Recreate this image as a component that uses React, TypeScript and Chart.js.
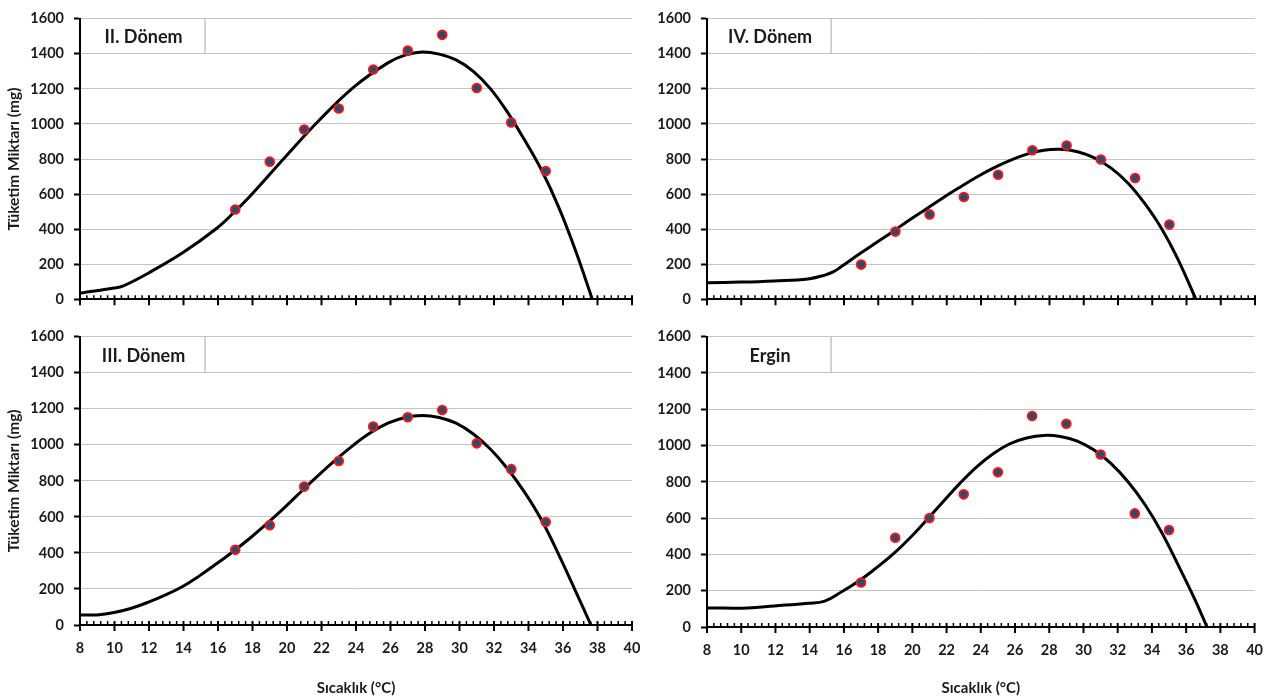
import React, { useEffect, useRef } from 'react';
import { Chart, registerables } from 'chart.js';

Chart.register(...registerables);

// ---- data ----
const temps = [17, 19, 21, 23, 25, 27, 29, 31, 33, 35];

const obsII = [512, 785, 968, 1088, 1310, 1418, 1508, 1205, 1008, 732];
const obsIII = [418, 554, 768, 910, 1101, 1153, 1193, 1008, 865, 572];
const obsIV = [198, 386, 484, 583, 710, 850, 877, 797, 692, 426];
const obsErgin = [245, 492, 601, 731, 853, 1163, 1120, 951, 626, 535];

const curveIIx = [8, 9.98, 10.48, 11.97, 13.95, 15.93, 16.92, 17.92, 19.9, 21.88, 23.87, 25.85, 26.84, 27.83, 28.82, 29.8, 30.8, 31.8, 32.76, 33.75, 34.74, 35.73, 36.72, 37.7];
const curveIIy = [35, 64, 75, 150, 265, 405, 495, 595, 812, 1022, 1210, 1348, 1392, 1410, 1398, 1365, 1300, 1200, 1070, 912, 740, 530, 280, 0];

const curveIIIx = [8, 8.99, 9.98, 10.98, 11.97, 12.96, 13.95, 14.94, 15.93, 16.92, 17.92, 18.91, 19.9, 20.9, 21.88, 22.87, 23.87, 24.86, 25.85, 26.84, 27.83, 28.82, 29.8, 30.8, 31.8, 32.76, 33.75, 34.74, 35.73, 36.72, 37.62];
const curveIIIy = [56, 56, 69, 93, 127, 167, 214, 274, 341, 411, 487, 569, 656, 748, 836, 920, 1000, 1068, 1120, 1152, 1163, 1152, 1120, 1060, 975, 870, 740, 585, 395, 190, 0];

const curveIVx = [8, 9.97, 11.93, 13.9, 14.88, 15.37, 15.87, 16.85, 17.83, 18.82, 19.8, 20.78, 21.77, 22.75, 23.73, 24.72, 25.7, 26.68, 27.67, 28.65, 29.64, 30.62, 31.6, 32.59, 33.57, 34.55, 35.53, 36.55];
const curveIVy = [94, 98, 105, 116, 138, 156, 188, 255, 319, 384, 451, 514, 578, 638, 696, 748, 792, 828, 850, 855, 841, 806, 748, 662, 545, 402, 222, 0];

const curveErginX = [8, 10.4, 11.93, 13.9, 14.88, 15.87, 16.85, 17.83, 18.82, 19.8, 20.78, 21.77, 22.75, 23.73, 24.72, 25.7, 26.68, 27.67, 28.65, 29.64, 30.62, 31.6, 32.59, 33.57, 34.55, 35.53, 36.52, 37.22];
const curveErginY = [105, 105, 116, 131, 143, 194, 252, 321, 397, 485, 584, 688, 789, 880, 955, 1010, 1042, 1056, 1050, 1025, 975, 902, 802, 678, 525, 342, 150, 0];

const xTickLabels = [8, 40, 2]; // min, max, step
const yTickLabels = [0, 1600, 200]; // min, max, step
const panelTitles = ['II. Dönem', 'III. Dönem', 'IV. Dönem', 'Ergin'];
const yTitle = 'Tüketim Miktarı (mg)';
const xTitle = 'Sıcaklık (°C)';

// ---- layout (page pixels) ----
type PanelCfg = {
  title: string; obs: number[]; cx: number[]; cy: number[];
  left: number; top: number; w: number; h: number;
  yw: number; xh: number; padTop: number; padRight: number;
  showX: boolean; showYTitle: boolean;
};

const panels: PanelCfg[] = [
  { title: panelTitles[0], obs: obsII, cx: curveIIx, cy: curveIIy, left: 0, top: 0, w: 660, h: 318, yw: 80, xh: 13, padTop: 13, padRight: 28, showX: false, showYTitle: true },
  { title: panelTitles[2], obs: obsIV, cx: curveIVx, cy: curveIVy, left: 640, top: 0, w: 638, h: 318, yw: 67, xh: 11, padTop: 14, padRight: 23, showX: false, showYTitle: false },
  { title: panelTitles[1], obs: obsIII, cx: curveIIIx, cy: curveIIIy, left: 0, top: 318, w: 660, h: 382, yw: 80, xh: 75, padTop: 13, padRight: 28, showX: true, showYTitle: true },
  { title: panelTitles[3], obs: obsErgin, cx: curveErginX, cy: curveErginY, left: 640, top: 318, w: 638, h: 382, yw: 67, xh: 73, padTop: 15, padRight: 23, showX: true, showYTitle: false },
];

const FONT = 'Lato, "Noto Sans", sans-serif';
const TEXT = '#1a1a1a';
const GRID = '#c4c4c4';

function Panel({ cfg }: { cfg: PanelCfg }) {
  const ref = useRef<HTMLCanvasElement | null>(null);
  useEffect(() => {
    if (!ref.current) return;
    const boxPlugin = {
      id: 'panelBox',
      beforeDatasetsDraw(chart: any) {
        const { ctx, scales } = chart;
        const x = scales.x, y = scales.y;
        const x0 = x.getPixelForValue(8);
        const x1 = x.getPixelForValue(15.25);
        const y0 = y.getPixelForValue(1600);
        const y1 = y.getPixelForValue(1400);
        ctx.save();
        ctx.strokeStyle = GRID;
        ctx.lineWidth = 1.5;
        ctx.beginPath();
        ctx.moveTo(x1, y0);
        ctx.lineTo(x1, y1);
        ctx.stroke();
        ctx.fillStyle = TEXT;
        ctx.font = `bold 18px ${FONT}`;
        ctx.textAlign = 'center';
        ctx.textBaseline = 'middle';
        ctx.fillText(cfg.title, (x0 + x1) / 2 + 1, (y0 + y1) / 2 + 1);
        ctx.restore();
      },
    };
    const xTickPlugin = {
      id: 'xMarks',
      afterDraw(chart: any) {
        const { ctx, scales } = chart;
        const x = scales.x, y = scales.y;
        const y0 = y.getPixelForValue(0);
        ctx.save();
        ctx.strokeStyle = '#000';
        const n = Math.round((xTickLabels[1] - xTickLabels[0]) / 0.4);
        for (let i = 0; i <= n; i++) {
          const v = xTickLabels[0] + i * 0.4;
          const px = x.getPixelForValue(v);
          const major = i % 5 === 0;
          ctx.lineWidth = major ? 2 : 1.5;
          ctx.beginPath();
          ctx.moveTo(px, y0 - 4);
          ctx.lineTo(px, major ? y0 + 6 : y0);
          ctx.stroke();
        }
        ctx.restore();
      },
    };
    const chart = new Chart(ref.current, {
      type: 'scatter',
      data: {
        datasets: [
          {
            data: temps.map((t, i) => ({ x: t, y: cfg.obs[i] })),
            showLine: false,
            pointRadius: 4.3,
            pointHoverRadius: 4.3,
            pointBackgroundColor: '#1F4E79',
            pointBorderColor: '#FF1010',
            pointBorderWidth: 2,
          },
          {
            data: cfg.cx.map((x, i) => ({ x, y: cfg.cy[i] })),
            showLine: true,
            borderColor: '#000',
            borderWidth: 3,
            pointRadius: 0,
            pointHoverRadius: 0,
            tension: 0.4,
            fill: false,
          } as any,
        ],
      },
      options: {
        animation: false,
        responsive: false,
        maintainAspectRatio: false,
        events: [],
        layout: { padding: { top: cfg.padTop, right: cfg.padRight, left: 0, bottom: 0 } },
        plugins: { legend: { display: false }, tooltip: { enabled: false } },
        scales: {
          x: {
            type: 'linear',
            min: xTickLabels[0],
            max: xTickLabels[1],
            afterFit: (s: any) => { s.height = cfg.xh; },
            grid: { drawOnChartArea: false, drawTicks: false },
            border: { color: '#000', width: 2 },
            ticks: {
              display: cfg.showX,
              stepSize: xTickLabels[2],
              autoSkip: false,
              maxRotation: 0,
              padding: 15,
              color: TEXT,
              font: { family: FONT, size: 14.5, weight: 'bold' },
              callback: (v: any) => String(v),
            },
            title: {
              display: cfg.showX,
              text: xTitle,
              color: TEXT,
              font: { family: FONT, size: 15, weight: 'bold' },
              padding: { top: 0, bottom: 3 },
            },
          },
          y: {
            type: 'linear',
            min: yTickLabels[0],
            max: yTickLabels[1],
            afterFit: (s: any) => { s.width = cfg.yw; },
            grid: { color: GRID, lineWidth: 1, tickColor: '#000', tickWidth: 2, tickLength: 6 },
            border: { color: '#000', width: 2 },
            ticks: {
              stepSize: yTickLabels[2],
              padding: 10,
              color: TEXT,
              font: { family: FONT, size: 14.5, weight: 'bold' },
              callback: (v: any) => String(v),
            },
            title: {
              display: cfg.showYTitle,
              text: yTitle,
              color: TEXT,
              font: { family: FONT, size: 15.5, weight: 'bold' },
              padding: { top: 5, bottom: 0 },
            },
          },
        },
      } as any,
      plugins: [boxPlugin, xTickPlugin],
    });
    return () => chart.destroy();
  }, [cfg]);
  return (
    <canvas
      ref={ref}
      width={cfg.w}
      height={cfg.h}
      style={{ position: 'absolute', left: cfg.left, top: cfg.top, width: cfg.w, height: cfg.h }}
    />
  );
}

export default function App() {
  return (
    <div style={{ position: 'fixed', left: 0, top: 0, width: 1278, height: 700, background: '#fff', overflow: 'hidden' }}>
      {panels.map((p) => (
        <Panel key={p.title} cfg={p} />
      ))}
    </div>
  );
}
